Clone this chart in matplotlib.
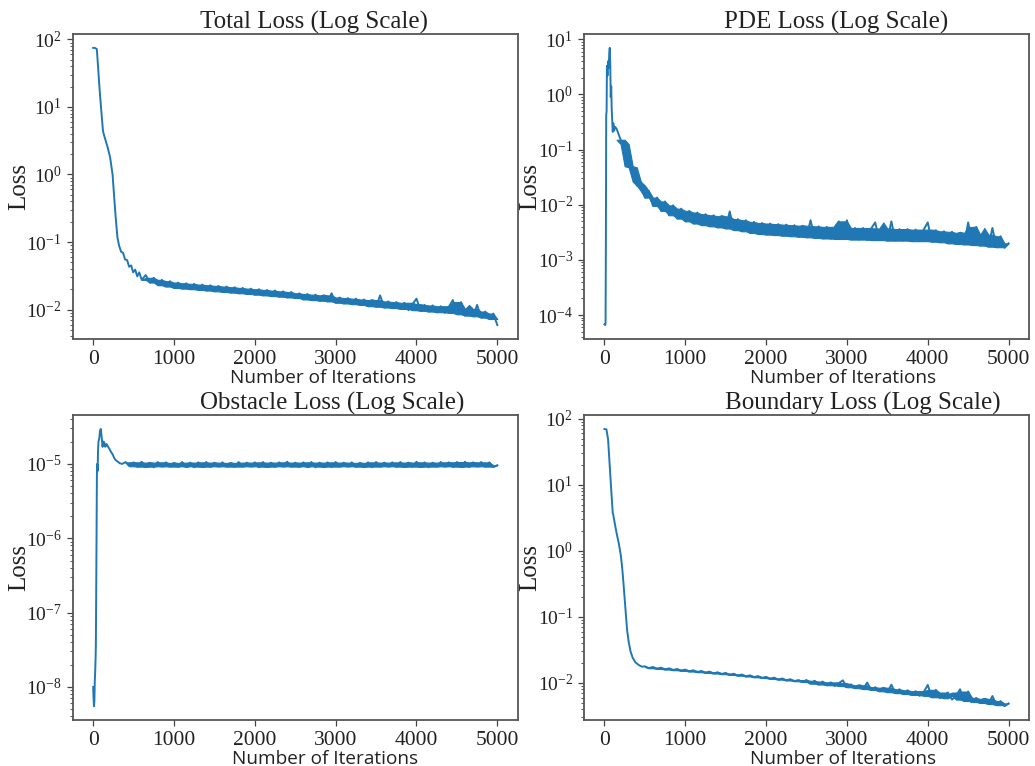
import matplotlib.pyplot as plt
import matplotlib.ticker as mticker
import numpy as np
import pandas as pd

# Шрифты: Times-подобный для заголовков и делений
plt.rcParams['font.family'] = 'Liberation Serif'
plt.rcParams['mathtext.fontset'] = 'custom'
plt.rcParams['mathtext.rm'] = 'Liberation Serif'
plt.rcParams['mathtext.it'] = 'Liberation Serif:italic'
plt.rcParams['mathtext.bf'] = 'Liberation Serif:bold'
plt.rcParams['axes.unicode_minus'] = False

# ---------------- Данные ----------------
# Total Loss: начальный участок
total_it_head = [0, 20, 45, 60, 80, 100, 120, 125, 150, 180, 210, 240, 260, 280, 300, 320, 345,
                 370, 395, 420, 445, 470, 495, 520, 545, 570]
total_loss_head = [75, 75, 72, 40, 17.8, 8.9, 4.6, 4.2, 3.3, 2.5, 1.78, 1.0, 0.46, 0.22, 0.117, 0.089, 0.072,
                   0.069, 0.055, 0.054, 0.043, 0.045, 0.0355, 0.039, 0.031, 0.0355]
# Total Loss: хвост, каждые 50 итераций
total_it_tail = np.arange(600, 5001, 50)
total_loss_tail = [
    0.0275, 0.0324, 0.0251, 0.0295, 0.0229, 0.0275, 0.0219, 0.0263, 0.0209, 0.0251,
    0.0204, 0.0245, 0.0200, 0.0240, 0.0195, 0.0234, 0.0191, 0.0229, 0.0186, 0.0224,
    0.0182, 0.0219, 0.0178, 0.0214, 0.0174, 0.0209, 0.0170, 0.0204, 0.0166, 0.0200,
    0.0162, 0.0195, 0.0158, 0.0191, 0.0155, 0.0186, 0.0151, 0.0182, 0.0148, 0.0174,
    0.0141, 0.0170, 0.0138, 0.0166, 0.0135, 0.0162, 0.0132, 0.0174, 0.0126, 0.0151,
    0.0123, 0.0148, 0.0120, 0.0145, 0.0117, 0.0141, 0.0112, 0.0138, 0.0110, 0.0162,
    0.0107, 0.0132, 0.0105, 0.0129, 0.0102, 0.0126, 0.00977, 0.0120, 0.0145, 0.00955,
    0.0117, 0.00933, 0.0115, 0.00912, 0.0112, 0.00891, 0.0110, 0.0138, 0.00851, 0.0129,
    0.00813, 0.0102, 0.00794, 0.0117, 0.00759, 0.00933, 0.00724, 0.00871, 0.00589,
]

# PDE Loss
pde_it_head = [0, 10, 14, 18, 22, 27, 31, 38, 45, 52, 60, 66, 72, 78, 84, 90, 97, 103, 110, 120, 130]
pde_loss_head = [6.8e-5, 6.6e-5, 7.2e-5, 2e-3, 0.42, 0.5, 3.3, 2.2, 4.0, 3.0, 5.5, 7.0, 3.5, 0.9, 1.4,
                 0.55, 0.32, 0.21, 0.30, 0.22, 0.26]
pde_it_tail = np.arange(150, 5001, 50)
pde_loss_tail = [
    0.240, 0.151, 0.126, 0.050, 0.0479, 0.0224, 0.0263, 0.0135, 0.0178, 0.00955,
    0.0135, 0.00776, 0.0115, 0.00646, 0.00977, 0.00562, 0.00851, 0.00501, 0.00776, 0.00457,
    0.00724, 0.00427, 0.00676, 0.00407, 0.00646, 0.00389, 0.00617, 0.00372, 0.00759, 0.00347,
    0.00550, 0.00331, 0.00525, 0.00309, 0.00490, 0.00295, 0.00468, 0.00288, 0.00457, 0.00282,
    0.00447, 0.00275, 0.00437, 0.00269, 0.00427, 0.00263, 0.00417, 0.00257, 0.00525, 0.00251,
    0.00407, 0.00245, 0.00398, 0.00240, 0.00398, 0.00501, 0.00240, 0.00525, 0.00234, 0.00380,
    0.00234, 0.00380, 0.00229, 0.00372, 0.00479, 0.00229, 0.00372, 0.00224, 0.00501, 0.00224,
    0.00363, 0.00224, 0.00363, 0.00219, 0.00355, 0.00219, 0.00355, 0.00479, 0.00214, 0.00347,
    0.00209, 0.00331, 0.00200, 0.00324, 0.00195, 0.00309, 0.00191, 0.00479, 0.00186, 0.00398,
    0.00182, 0.00288, 0.00174, 0.00380, 0.00170, 0.00269, 0.00166, 0.00200,
]

# Obstacle Loss
obst_it_head = [0, 5, 10, 15, 20, 25, 30, 33, 37, 42, 46, 50, 55, 60, 66, 75, 85, 95, 105, 116,
                125, 137, 150, 165, 178, 200, 220, 240, 260, 280, 300, 330, 360]
obst_loss_head = [1.0e-8, 7e-9, 5.5e-9, 6.5e-9, 1.2e-8, 1.6e-8, 2.5e-8, 3.5e-8, 1.5e-7, 1.2e-6,
                  7e-6, 1.0e-5, 8e-6, 1.5e-5, 2.0e-5, 2.2e-5, 2.8e-5, 2.95e-5, 2.3e-5, 1.7e-5,
                  2.0e-5, 1.95e-5, 1.7e-5, 1.85e-5, 1.75e-5, 1.6e-5, 1.45e-5, 1.35e-5, 1.2e-5, 1.12e-5,
                  1.08e-5, 1.02e-5, 1.0e-5]
obst_it_tail = np.arange(400, 5001, 50)
obst_loss_tail = [
    1.06e-5, 9.3e-6, 1.05e-5, 9.1e-6, 1.07e-5, 9.2e-6, 1.04e-5, 9.0e-6, 1.06e-5, 9.3e-6,
    1.05e-5, 9.2e-6, 1.03e-5, 9.1e-6, 1.06e-5, 9.3e-6, 1.04e-5, 9.0e-6, 1.05e-5, 9.2e-6,
    1.06e-5, 9.1e-6, 1.04e-5, 9.3e-6, 1.05e-5, 9.2e-6, 1.03e-5, 9.1e-6, 1.06e-5, 9.2e-6,
    1.04e-5, 9.3e-6, 1.05e-5, 9.0e-6, 1.06e-5, 9.2e-6, 1.04e-5, 9.1e-6, 1.05e-5, 9.3e-6,
    1.07e-5, 9.2e-6, 1.04e-5, 9.1e-6, 1.05e-5, 9.3e-6, 1.06e-5, 9.0e-6, 1.04e-5, 9.2e-6,
    1.05e-5, 9.1e-6, 1.06e-5, 9.2e-6, 1.04e-5, 9.3e-6, 1.05e-5, 9.1e-6, 1.03e-5, 9.2e-6,
    1.05e-5, 9.0e-6, 1.06e-5, 9.2e-6, 1.04e-5, 9.3e-6, 1.05e-5, 9.1e-6, 1.06e-5, 9.2e-6,
    1.04e-5, 9.1e-6, 1.07e-5, 9.2e-6, 1.05e-5, 9.0e-6, 1.04e-5, 9.2e-6, 1.06e-5, 9.3e-6,
    1.05e-5, 9.1e-6, 1.06e-5, 9.2e-6, 1.07e-5, 9.1e-6, 1.05e-5, 9.3e-6, 1.06e-5, 9.2e-6,
    1.05e-5, 9.1e-6, 9.6e-6,
]

# Boundary Loss
bnd_it_head = [0, 25, 45, 66, 87, 103, 108, 115, 136, 157, 178, 200, 219, 235, 252, 265, 281, 300,
               323, 350, 385, 430, 467]
bnd_loss_head = [70, 69, 49, 19, 7.4, 3.7, 3.6, 3.2, 2.3, 1.7, 1.29, 0.90, 0.57, 0.33, 0.178, 0.11,
                 0.062, 0.042, 0.030, 0.024, 0.0204, 0.0185, 0.0176]
bnd_it_tail = np.arange(500, 5001, 50)
bnd_loss_tail = [
    0.01786, 0.01671, 0.01746, 0.01633, 0.01706, 0.01596, 0.01667, 0.01560, 0.01629, 0.01524,
    0.01592, 0.01489, 0.01556, 0.01455, 0.01521, 0.01422, 0.01486, 0.01390, 0.01452, 0.01358,
    0.01419, 0.01324, 0.01380, 0.01288, 0.01343, 0.01253, 0.01306, 0.01219, 0.01271, 0.01186,
    0.01236, 0.01153, 0.01202, 0.01122, 0.01169, 0.01091, 0.01138, 0.01062, 0.01107, 0.01033,
    0.01109, 0.00975, 0.01079, 0.00948, 0.01050, 0.00923, 0.01021, 0.00898, 0.00993, 0.01096,
    0.00861, 0.00951, 0.00834, 0.00920, 0.00807, 0.01012, 0.00782, 0.00863, 0.00748, 0.00845,
    0.00724, 0.00940, 0.00701, 0.00802, 0.00679, 0.00776, 0.00658, 0.00752, 0.00637, 0.00728,
    0.00933, 0.00607, 0.00787, 0.00587, 0.00671, 0.00716, 0.00560, 0.00640, 0.00802, 0.00533,
    0.00741, 0.00515, 0.00594, 0.00497, 0.00573, 0.00479, 0.00634, 0.00461, 0.00532, 0.00445,
    0.00490,
]

titles = ['Total Loss (Log Scale)', 'PDE Loss (Log Scale)',
          'Obstacle Loss (Log Scale)', 'Boundary Loss (Log Scale)']

series = [
    (total_it_head, total_loss_head, total_it_tail, total_loss_tail),
    (pde_it_head, pde_loss_head, pde_it_tail, pde_loss_tail),
    (obst_it_head, obst_loss_head, obst_it_tail, obst_loss_tail),
    (bnd_it_head, bnd_loss_head, bnd_it_tail, bnd_loss_tail),
]

# левый край заголовка и подписи оси X (доли оси) для левой/правой колонки
title_x = [0.285, 0.315, 0.285, 0.317]
xlabel_x = [0.353, 0.372, 0.357, 0.374]
color = '#1f77b4'


# второе по величине / по малости значение в окне: огибающая без одиночных выбросов
def second_max(w):
    return np.sort(w)[-2] if len(w) > 1 else w[0]


def second_min(w):
    return np.sort(w)[1] if len(w) > 1 else w[0]


fig, axes = plt.subplots(2, 2, figsize=(10.35, 7.66), dpi=100)
fig.subplots_adjust(left=0.0705, right=0.994, top=0.9556, bottom=0.060, wspace=0.15, hspace=0.25)

for i, ax in enumerate(axes.flat):
    it_h, loss_h, it_t, loss_t = series[i]
    assert len(it_h) == len(loss_h) and len(it_t) == len(loss_t)
    x = np.concatenate([it_h, it_t])
    y = np.concatenate([loss_h, loss_t])
    ax.plot(x, y, color=color, linewidth=1.4)

    # шумная полоса хвоста
    s = pd.Series(loss_t)
    lo = s.rolling(5, center=True, min_periods=1).apply(second_min, raw=True)
    hi = s.rolling(5, center=True, min_periods=1).apply(second_max, raw=True)
    ax.fill_between(it_t, lo, hi, color=color, linewidth=0.8, edgecolor=color)

    ax.set_yscale('log')
    ax.yaxis.set_major_locator(mticker.LogLocator(base=10, numticks=100))
    ax.yaxis.set_minor_locator(mticker.LogLocator(base=10, subs=np.arange(2, 10), numticks=100))
    ax.yaxis.set_minor_formatter(mticker.NullFormatter())

    ax.set_title(titles[i], fontsize=18, x=title_x[i], ha='left', pad=3, color='#222222')
    ax.set_xlabel('Number of Iterations', fontfamily='Open Sans', fontsize=13.7,
                  ha='left', va='baseline', color='#222222')
    ax.xaxis.set_label_coords(xlabel_x[i], -0.144)
    ax.set_ylabel('Loss', fontsize=18, va='center', color='#222222')
    ax.yaxis.set_label_coords(-0.122, 0.5)

    ax.tick_params(axis='x', length=4.5, width=0.9, labelsize=15.5, colors='#444444', labelcolor='#222222')
    ax.tick_params(axis='y', which='major', length=4.5, width=0.9, labelsize=14,
                   colors='#444444', labelcolor='#222222')
    ax.tick_params(axis='y', which='minor', length=2.5, width=0.7, colors='#555555')
    for sp in ax.spines.values():
        sp.set_color('#555555')
        sp.set_linewidth(1.3)

fig.savefig('out.png', dpi=100)
